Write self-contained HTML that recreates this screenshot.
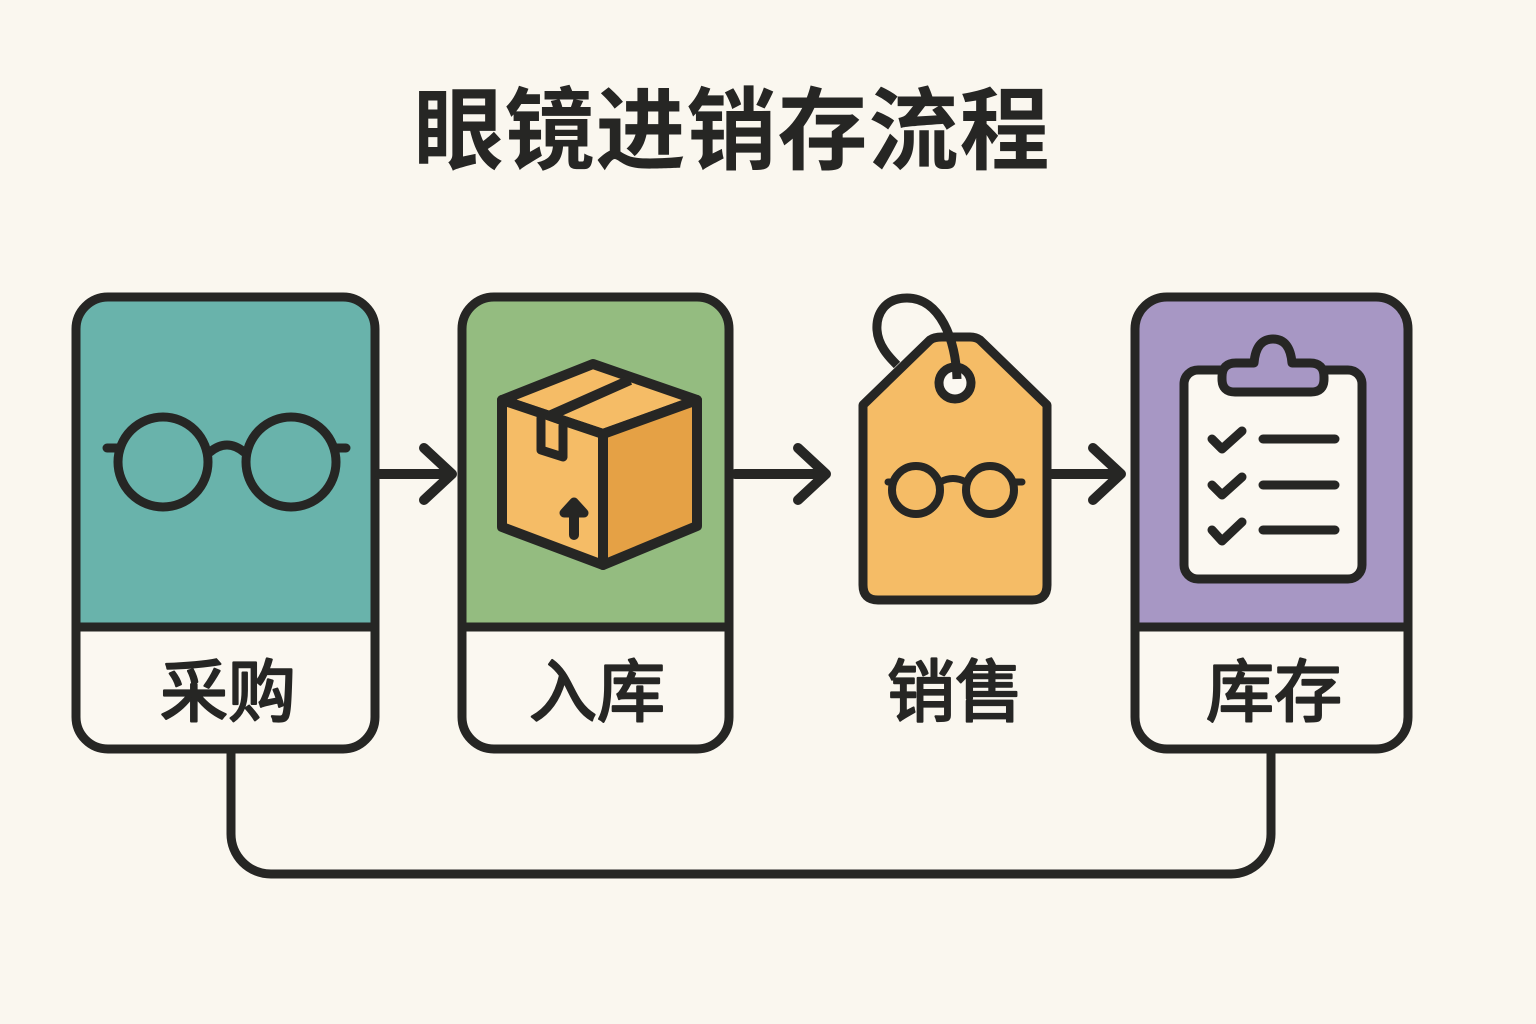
<!DOCTYPE html>
<html><head><meta charset="utf-8"><style>
html,body{margin:0;padding:0;background:#faf7ef;width:1536px;height:1024px;overflow:hidden}
svg{display:block}
text{font-family:"Liberation Sans","Noto Sans CJK SC",sans-serif;fill:#262624;text-anchor:middle}
</style></head><body>
<svg width="1536" height="1024" viewBox="0 0 1536 1024" fill="none" stroke-linecap="round" stroke-linejoin="round">
<rect width="1536" height="1024" fill="#faf7ef" stroke="none"/>
<text x="732" y="162" font-size="90" font-weight="700" letter-spacing="1">眼镜进销存流程</text>
<g stroke="#262624" stroke-width="9">
<path d="M231 750V834A40 40 0 0 0 271 874H1231A40 40 0 0 0 1271 834V750"/>
<path d="M76 627V329A32 32 0 0 1 108 297H343A32 32 0 0 1 375 329V627Z" fill="#69b3ab"/>
<path d="M76 627H375V717A32 32 0 0 1 343 749H108A32 32 0 0 1 76 717Z" fill="#fbf8f1"/>
<path d="M462 627V329A32 32 0 0 1 494 297H697A32 32 0 0 1 729 329V627Z" fill="#94bc80"/>
<path d="M462 627H729V717A32 32 0 0 1 697 749H494A32 32 0 0 1 462 717Z" fill="#fbf8f1"/>
<path d="M1135 627V329A32 32 0 0 1 1167 297H1376A32 32 0 0 1 1408 329V627Z" fill="#a797c4"/>
<path d="M1135 627H1408V717A32 32 0 0 1 1376 749H1167A32 32 0 0 1 1135 717Z" fill="#fbf8f1"/>
<path d="M380 474H450M424 448L452 474L424 500M735 474H824M798 448L826 474L798 500M1052 474H1119M1093 448L1121 474L1093 500" stroke-width="10"/>
<!-- glasses -->
<circle cx="163" cy="462" r="45" stroke-width="9"/><circle cx="291" cy="462" r="45" stroke-width="9"/>
<path d="M210 452Q227 438 244 452" stroke-width="9"/>
<path d="M107 448H118M335 448H346" stroke-width="9"/>
<!-- box -->
<path d="M502 400L593 364L697 400L603 434Z" fill="#f5bc66" stroke-width="10"/>
<path d="M502 400V527L603 565V434Z" fill="#f5bc66" stroke-width="10"/>
<path d="M603 434L697 400V526L603 565Z" fill="#e5a145" stroke-width="10"/>
<path d="M549 416L630 380" stroke-width="10" stroke-linecap="butt"/>
<path d="M541 418V450L563 457V426" fill="#f5bc66" stroke-width="9"/>
<path d="M574 535V506" stroke-width="10"/>
<path d="M564 513L574 502L584 513Z" fill="#262624" stroke-width="9"/>
<!-- tag -->
<path d="M863 405L930 340Q934 337 942 337H970Q976 337 980 340L1047 405V585Q1047 600 1032 600H878Q863 600 863 585Z" fill="#f5bc66"/>
<circle cx="955" cy="383" r="16" fill="#fbf8f1"/>
<path d="M957 379C956 340 940 298 907 298C884 298 876 315 877 330C878 345 888 356 897 365" stroke-width="9" stroke-linecap="butt"/>
<circle cx="916" cy="490" r="24" stroke-width="8"/><circle cx="990" cy="490" r="24" stroke-width="8"/>
<path d="M940 482Q953 475 966 482M888 482H893M1014 482H1022" stroke-width="7"/>
<!-- clipboard -->
<rect x="1184" y="370" width="178" height="209" rx="14" fill="#fbf8f1"/>
<path d="M1222 377Q1222 363 1236 363H1254Q1256 339 1273 339Q1290 339 1292 363H1310Q1324 363 1324 377V379Q1324 392 1311 392H1235Q1222 392 1222 379Z" fill="#a797c4" stroke-width="9"/>
<path d="M1212 439L1222 449L1242 431M1212 485L1222 495L1242 477M1212 530L1222 541L1242 522" stroke-width="9"/>
<path d="M1263 439H1335M1263 485H1335M1263 530H1335" stroke-width="9"/>
</g>
<g font-size="68" stroke="#262624" stroke-width="2.2">
<text x="228" y="716">采购</text><text x="597" y="716">入库</text><text x="955" y="716">销售</text><text x="1274" y="716">库存</text>
</g>
</svg>
</body></html>
